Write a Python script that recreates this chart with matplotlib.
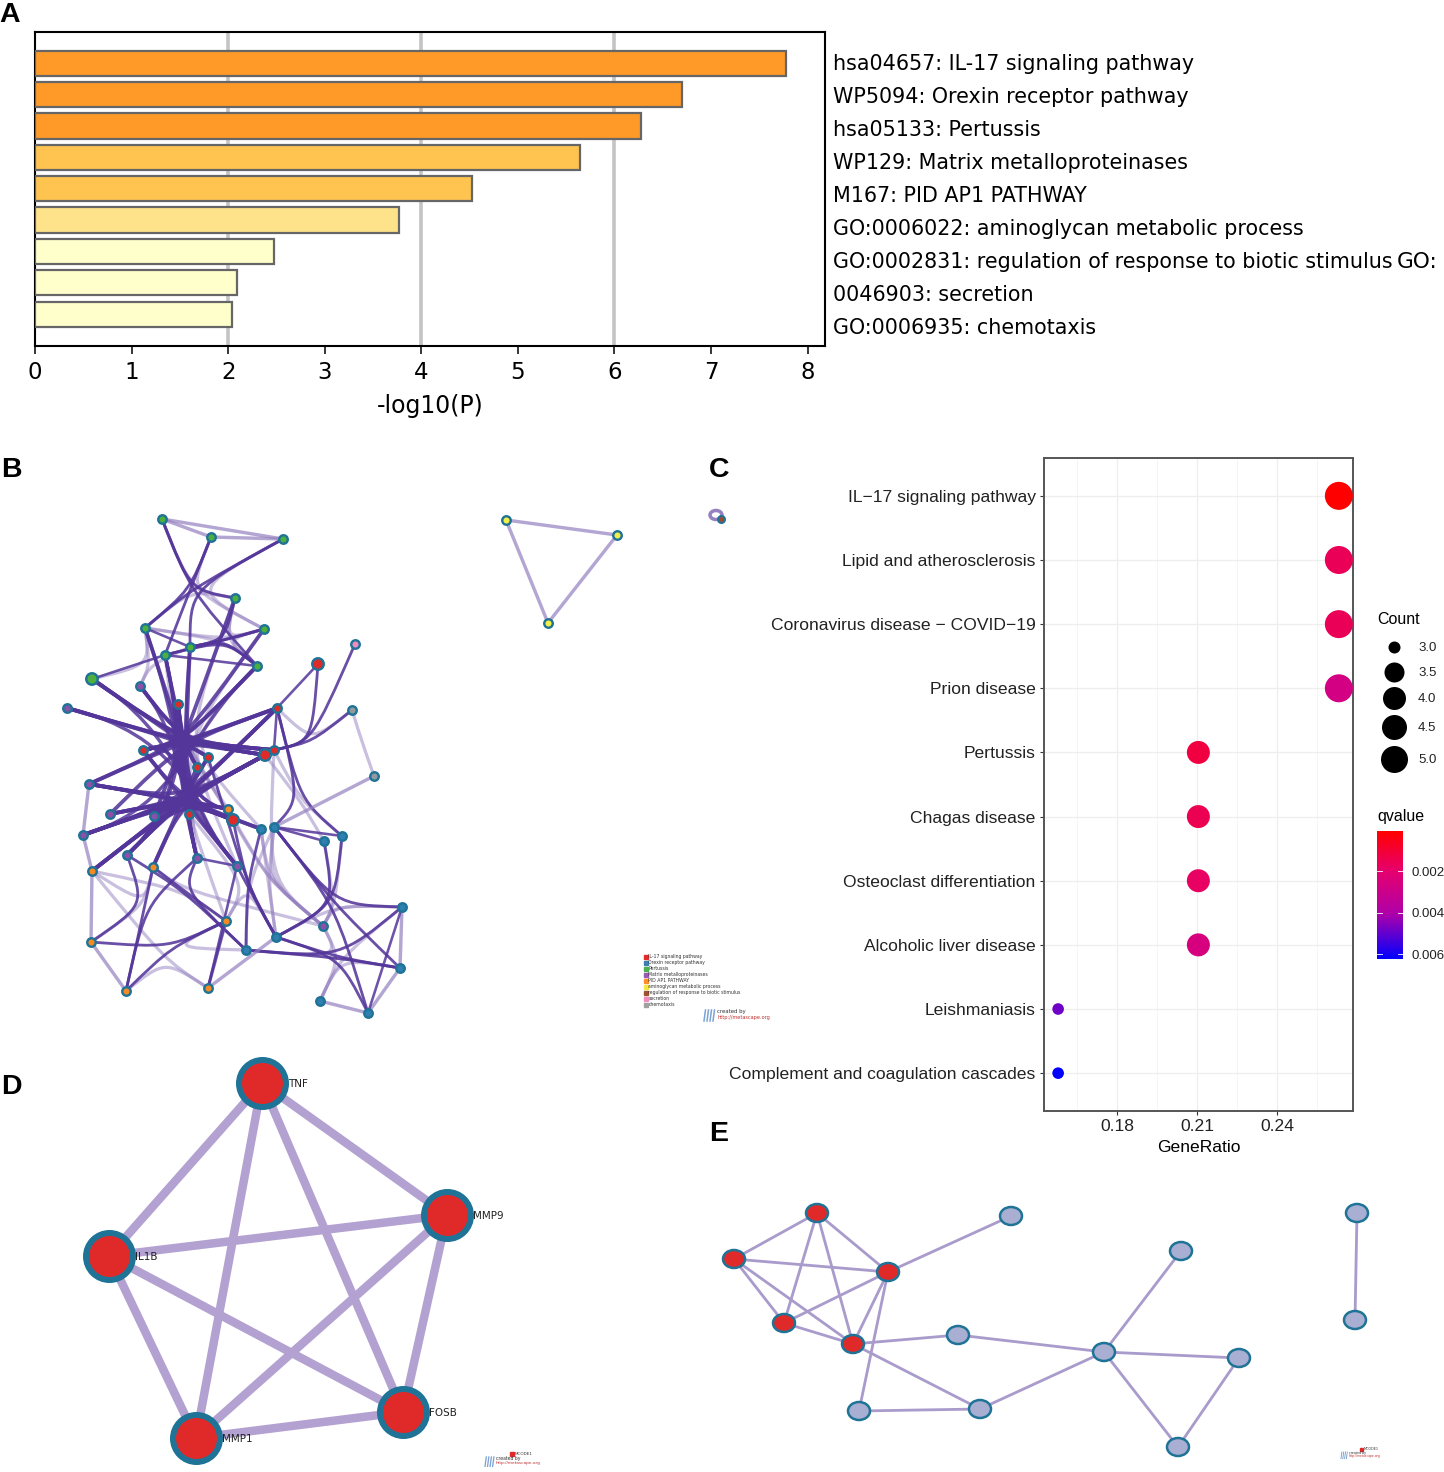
import numpy as np
import matplotlib
matplotlib.use("Agg")
import matplotlib.pyplot as plt
from matplotlib.path import Path
from matplotlib.patches import PathPatch, Ellipse, Rectangle
from matplotlib.colors import LinearSegmentedColormap, Normalize
from matplotlib.cm import ScalarMappable

W, H = 1444, 1472

# panel A
a_labels = ["hsa04657: IL-17 signaling pathway", "WP5094: Orexin receptor pathway",
            "hsa05133: Pertussis", "WP129: Matrix metalloproteinases",
            "M167: PID AP1 PATHWAY", "GO:0006022: aminoglycan metabolic process",
            "GO:0002831: regulation of response to biotic stimulus",
            "0046903: secretion", "GO:0006935: chemotaxis"]
a_values = [7.78, 6.70, 6.27, 5.64, 4.52, 3.77, 2.47, 2.09, 2.04]
a_colors = ["#ff9a28", "#ff9a28", "#ff9a28", "#fec44f", "#fec44f", "#fee38b",
            "#ffffcc", "#ffffcc", "#ffffcc"]

# panel C
c_terms = ["IL\u221217 signaling pathway", "Lipid and atherosclerosis",
           "Coronavirus disease \u2212 COVID\u221219", "Prion disease", "Pertussis",
           "Chagas disease", "Osteoclast differentiation", "Alcoholic liver disease",
           "Leishmaniasis", "Complement and coagulation cascades"]
c_ratio = [0.2632, 0.2632, 0.2632, 0.2632, 0.2105, 0.2105, 0.2105, 0.2105, 0.1579, 0.1579]
c_count = [5, 5, 5, 5, 4, 4, 4, 4, 3, 3]
c_qvalue = [0.0001, 0.0016, 0.0016, 0.0027, 0.0012, 0.0015, 0.0018, 0.0026, 0.0048, 0.0062]
c_size_levels = [3.0, 3.5, 4.0, 4.5, 5.0]

# panel B nodes, in picture pixels
b_green = {"g0": (162, 519), "g1": (211, 537), "g2": (283, 539), "g3": (235, 598), "g4": (145, 628),
           "g5": (264, 629), "g6": (190, 647), "g7": (165, 655), "g8": (257, 666), "g9": (92, 679)}
b_purple = {"p0": (140, 686), "p1": (67, 708), "p2": (89, 784), "p3": (110, 814), "p4": (154, 816),
            "p5": (83, 835), "p6": (127, 855), "p7": (197, 858), "p8": (237, 866), "p9": (323, 926)}
b_red = {"r0": (178, 704), "r1": (277, 708), "r2": (318, 664), "r3": (143, 750), "r4": (208, 757),
         "r5": (265, 755), "r6": (274, 750), "r7": (197, 767), "r8": (189, 814), "r9": (233, 820)}
b_orange = {"o0": (228, 809), "o1": (92, 871), "o2": (153, 867), "o3": (226, 921), "o4": (91, 942),
            "o5": (126, 991), "o6": (208, 988)}
b_blue = {"b0": (261, 829), "b1": (274, 827), "b2": (324, 841), "b3": (342, 836), "b4": (402, 907),
          "b5": (276, 937), "b6": (246, 950), "b7": (400, 968), "b8": (320, 1001), "b9": (368, 1013)}
b_gray = {"a0": (352, 710), "a1": (374, 776)}
b_pink = {"k0": (355, 644)}
b_yellow = {"y0": (506, 520), "y1": (617, 535), "y2": (548, 623)}

# edges that run down the central trunk, through both star points
b_trunk = ("g6-p7 g7-r8 g4-p7 r0-p7 g8-p5 p0-p7 g9-p8 p1-o0 r3-o0 r0-r8 "
           "g7-p6 r0-p8 r0-p6")

# edges grouped by the point they bundle through: (hub, strong, light)
b_edges = [
    ((183, 742), "p1-r5 p1-r6 g9-r5 g9-r6 p0-r5 p0-r6 g9-r4 p1-r4 r0-r7 g7-r7 g4-r8 g5-r3 g8-r3 g3-p4 g8-p2 "
                 "r3-r5 r3-r6 r1-r3 r1-p3 r1-p2",
     "g6-o0 g7-r9 g4-r9 g3-p8 g5-p7 g8-b0 g9-r7"),
    ((183, 800), "p2-r9 p2-o0 p3-r5 p5-r5 p5-r6 p5-r1 o1-r5 o1-r1 p3-r9 p4-r4 p4-r5 p6-r4 o2-r7 p5-r9 p7-r0 p8-r0 "
                 "r3-b0 g6-r9 p2-r6 o1-r6 p6-r5 r3-p8 p5-o0 o1-r9 p3-o0 p6-r1 o2-r5 p2-b0",
     "p2-p3 p6-r9 o2-r9 p7-r9 o3-r7 g7-p7"),
    ((190, 590), "g0-g3 g1-g7 g1-g4 g2-g4 g2-g6 g0-g8",
     "g0-g5 g3-g4 g2-g5 g1-g3"),
    ((225, 640), "g3-g6 g5-g6 g5-g7 g8-g7 g6-g8",
     "g3-g5 g5-g8 g4-g5 g4-g8 g3-g8"),
    ((150, 665), "", "g9-g4 p0-g4 p0-g6"),
    ((312, 742), "r2-r6 k0-r6 a0-r6", "r1-a0"),
    ((300, 800), "r1-b3 r1-b1", "r6-b3 r5-b2"),
    ((335, 905), "b1-b7 b1-b9 b3-b5 b2-b5 b1-b4",
     "p9-b4 b5-b4 b3-p9 b2-p9"),
    ((340, 958), "b6-b4 b6-b7 b5-b9 b5-b7", "b8-b4 b8-b7 p9-b6 b8-p9"),
    ((247, 885), "r9-b5 p8-b5 b0-b6 r4-b5", "b1-b6 o3-b5 r8-o3"),
    ((268, 880), "", "b1-p9 b0-p9 r9-p9 o0-p9 b1-b5 b0-b5 r6-p9"),
    ((183, 890), "p6-b6 p7-b6 o2-o3", "o1-o3 o2-p9"),
    ((170, 948), "o4-o3 o5-o3", "o3-b6"),
    ((145, 905), "o5-o2 o4-p6 o5-p7", "o1-o2 o4-o2"),
    ((165, 960), "", "o5-o6 o1-o6"),
    ((362, 742), "", "a0-a1"),
]
b_straight_strong = ["p7-p8", "b1-b2", "b1-b3", "b9-b4", "g4-g6", "r1-r6", "r5-r6", "r2-r1", "o6-o3", "o6-p8", "g7-g8", "g9-g7"]
b_straight_light = ["g0-g1", "g1-g2", "g0-g2", "o1-o4", "o4-o5", "b8-b9", "b7-b9", "b4-b7", "a1-b1",
                    "y0-y1", "y1-y2", "y0-y2", "p2-p5", "p5-o1", "o6-o3", "o6-b5"]

# panel D
d_nodes = {"TNF": (262, 1083), "MMP9": (447, 1215), "IL1B": (109, 1256), "FOSB": (403, 1412), "MMP1": (196, 1438)}
d_edges = [("TNF", "MMP9"), ("TNF", "IL1B"), ("TNF", "MMP1"), ("TNF", "FOSB"), ("MMP9", "IL1B"),
           ("MMP9", "FOSB"), ("MMP9", "MMP1"), ("IL1B", "MMP1"), ("IL1B", "FOSB"), ("MMP1", "FOSB")]

# panel E
e_red = [(817, 1213), (734, 1259), (888, 1272), (784, 1323), (853, 1344)]
e_rest = [(1011, 1216), (1181, 1251), (958, 1335), (1104, 1352), (1239, 1358), (859, 1411),
          (980, 1409), (1178, 1447), (1357, 1213), (1355, 1320)]
e_edges = [(0, 1), (0, 2), (0, 3), (0, 4), (1, 2), (1, 3), (1, 4), (2, 3), (2, 4), (2, 10), (2, 5), (3, 4),
           (4, 7), (4, 11), (7, 8), (11, 8), (10, 11), (8, 6), (8, 9), (8, 12), (9, 12), (13, 14)]

legend_terms = ["IL-17 signaling pathway", "Orexin receptor pathway", "Pertussis", "Matrix metalloproteinases",
                "PID AP1 PATHWAY", "aminoglycan metabolic process", "regulation of response to biotic stimulus",
                "secretion", "chemotaxis"]
legend_colors = ["#e62a2a", "#3a7fb5", "#4caf50", "#9b59b6", "#ff8c2a", "#f5e642", "#a0522d", "#f08cc0", "#a0a0a0"]

PURPLE = "#54369a"
LIGHT = "#9580c0"
RIM = "#1f7396"
RED = "#e02a2a"


def px(n):
    return n * 72 / 100


def pix_axes(fig, x0, y0, x1, y1):
    return fig.add_axes([x0 / W, 1 - y1 / H, (x1 - x0) / W, (y1 - y0) / H])


fig = plt.figure(figsize=(W / 100, H / 100), dpi=100, facecolor="white")

# ---- A
ax = pix_axes(fig, 35, 32, 825, 346)
ax.set_axisbelow(True)
ax.barh(range(9), a_values, height=0.8, color=a_colors, edgecolor="#666666", linewidth=1.6, zorder=3)
for v in [2, 4, 6]:
    ax.axvline(v, color="#c4c4c4", lw=2.6, zorder=1)
ax.set_xlim(0, 8.18)
ax.set_ylim(9.02, -1)
ax.set_yticks([])
ax.set_xticks(range(9))
ax.tick_params(axis="x", labelsize=16.5, length=6, width=1.1, pad=5)
ax.set_xlabel("-log10(P)", fontsize=17, labelpad=7)
for sp in ax.spines.values():
    sp.set_linewidth(1.5)
for i, lab in enumerate(a_labels):
    fig.text(833 / W, 1 - (64.5 + i * 32.9) / H, lab, fontsize=14.9, va="center", ha="left")
fig.text(1397 / W, 1 - (64.5 + 6 * 32.9) / H, "GO:", fontsize=15.6, va="center", ha="left")

# ---- C
ax = pix_axes(fig, 1044, 458, 1353, 1111)
ax.set_axisbelow(True)
q_cmap = LinearSegmentedColormap.from_list("q", [(0, "#ff0000"), (0.31, "#e6006e"), (0.64, "#b000a8"), (1, "#0000ff")])
q_norm = Normalize(0.00007, 0.00624)
radius = {3: 5.8, 4: 11.5, 5: 14}
sizes = [(2 * px(radius[c])) ** 2 for c in c_count]
ax.scatter(c_ratio, range(10), s=sizes, c=c_qvalue, cmap=q_cmap, norm=q_norm, linewidths=0, zorder=3, clip_on=False)
ax.set_xlim(0.1526, 0.2685)
ax.set_ylim(9.59, -0.59)
ax.set_xticks([0.18, 0.21, 0.24])
ax.set_xticks([0.165, 0.195, 0.225, 0.255], minor=True)
ax.set_xticklabels(["0.18", "0.21", "0.24"])
ax.set_yticks(range(10))
ax.set_yticklabels(c_terms)
ax.grid(True, which="major", color="#eeeeee", lw=0.9)
ax.grid(True, which="minor", axis="x", color="#f4f4f4", lw=0.6)
ax.tick_params(axis="both", which="major", length=3, width=0.8, color="#333333", labelsize=12.6, labelcolor="#222222", pad=3)
ax.tick_params(axis="x", which="minor", length=0)
for t in ax.get_xticklabels() + ax.get_yticklabels():
    t.set_family("Liberation Sans")
ax.set_xlabel("GeneRatio", fontsize=12.6, family="Liberation Sans", labelpad=4)
for sp in ax.spines.values():
    sp.set_linewidth(1.4)
    sp.set_color("#555555")

# count legend
lax = pix_axes(fig, 1370, 600, 1444, 1000)
lax.set_xlim(1370, 1444)
lax.set_ylim(1000, 600)
lax.axis("off")
size_y = [647, 672, 698, 727, 759]
size_r = [6, 10, 11.5, 12.5, 13.5]
lax.text(1377, 619, "Count", fontsize=11.5, family="Liberation Sans", va="center")
for lev, y, r in zip(c_size_levels, size_y, size_r):
    lax.scatter([1394], [y], s=(2 * px(r)) ** 2, color="black", linewidths=0)
    lax.text(1418, y + 1, f"{lev:.1f}", fontsize=9.5, family="Liberation Sans", va="center", color="#222222")
lax.text(1377, 817, "qvalue", fontsize=11.5, family="Liberation Sans", va="center")

cax = pix_axes(fig, 1377, 831, 1403, 959)
cb = fig.colorbar(ScalarMappable(norm=q_norm, cmap=q_cmap), cax=cax, ticks=[0.002, 0.004, 0.006])
cax.invert_yaxis()
cb.outline.set_visible(False)
cb.ax.set_yticklabels(["0.002", "0.004", "0.006"], family="Liberation Sans", fontsize=9.5, color="#222222")
cb.ax.tick_params(length=0, pad=6)
for v in [0.002, 0.004, 0.006]:
    cax.plot([0, 0.2], [v, v], color="white", lw=0.6, transform=cax.get_yaxis_transform())
    cax.plot([0.8, 1], [v, v], color="white", lw=0.6, transform=cax.get_yaxis_transform())

# ---- networks on a full page layer
net = fig.add_axes([0, 0, 1, 1], zorder=5)
net.set_xlim(0, W)
net.set_ylim(H, 0)
net.axis("off")
net.patch.set_alpha(0)

b_nodes = {}
for d in (b_green, b_purple, b_red, b_orange, b_blue, b_gray, b_pink, b_yellow):
    b_nodes.update(d)


def draw_curve(a, b, c1, c2, color, lw, alpha):
    path = Path([b_nodes[a], c1, c2, b_nodes[b]], [Path.MOVETO, Path.CURVE4, Path.CURVE4, Path.CURVE4])
    net.add_patch(PathPatch(path, fc="none", ec=color, lw=lw, alpha=alpha, capstyle="round", zorder=2))


for hub, strong, light in b_edges:
    for e in light.split():
        a, b = e.split("-")
        draw_curve(a, b, hub, hub, LIGHT, px(3.2), 0.5)
for e in b_trunk.split():
    a, b = e.split("-")
    draw_curve(a, b, (183, 735), (183, 805), PURPLE, px(3.4), 0.85)
for n, (hub, strong, light) in enumerate(b_edges):
    width = 3.8 if n < 2 else 2.8
    for e in strong.split():
        a, b = e.split("-")
        draw_curve(a, b, hub, hub, PURPLE, px(width), 0.88)
for e in b_straight_light:
    a, b = e.split("-")
    net.plot(*zip(b_nodes[a], b_nodes[b]), color=LIGHT, lw=px(3.4), alpha=0.7, zorder=2)
for e in b_straight_strong:
    a, b = e.split("-")
    net.plot(*zip(b_nodes[a], b_nodes[b]), color=PURPLE, lw=px(2.6), alpha=0.85, zorder=2)

for d, col in [(b_green, "#4caf3f"), (b_purple, "#8e4fa8"), (b_red, RED), (b_orange, "#f58a24"),
               (b_blue, "#2f7fb0"), (b_gray, "#909a9f"), (b_pink, "#f08cc0"), (b_yellow, "#f2ee4a")]:
    xs, ys = zip(*d.values())
    net.scatter(xs, ys, s=px(8.5) ** 2, c=col, edgecolors=RIM, linewidths=px(2.4), zorder=4)
net.scatter([92, 318, 233, 265], [679, 664, 820, 755], s=px(11.5) ** 2,
            c=["#4caf3f", RED, RED, RED], edgecolors=RIM, linewidths=px(2.4), zorder=5)

# tiny self connected node at the top of B
net.add_patch(Ellipse((716, 515), 12, 9, fc="none", ec=LIGHT, lw=px(3.5), zorder=2))
net.scatter([721], [519], s=px(7) ** 2, c="#a04a30", edgecolors=RIM, linewidths=px(2), zorder=4)

# B legend
for i, (t, col) in enumerate(zip(legend_terms, legend_colors)):
    y = 956.5 + i * 6
    net.add_patch(Rectangle((644, y - 2), 3.6, 4, color=col, zorder=3))
    net.text(648.5, y, t, fontsize=3.35, va="center", color="#333333", zorder=3)


def credit(x, y, scale):
    for dx in (0, 3, 6, 9):
        net.plot([x + dx * scale, x + (dx + 1.5) * scale], [y + 11 * scale, y], color="#5b8cc8", lw=1.1 * scale, alpha=0.8)
    net.text(x + 13 * scale, y + 1.5 * scale, "created by", fontsize=3.9 * scale, va="center", color="#333333")
    net.text(x + 13 * scale, y + 7.5 * scale, "http://metascape.org", fontsize=3.6 * scale, va="center",
             color="#c03030")


credit(704, 1010, 1)

# ---- D
for a, b in d_edges:
    net.plot(*zip(d_nodes[a], d_nodes[b]), color="#b2a1d1", lw=px(8.5), zorder=2, solid_capstyle="butt")
for name, (x, y) in d_nodes.items():
    net.scatter([x], [y], s=px(47) ** 2, c=RED, edgecolors=RIM, linewidths=px(6), zorder=4)
    net.text(x + 26, y + 1, name, fontsize=7.5, va="center", color="#222222", zorder=5)
net.add_patch(Rectangle((510, 1452), 4, 4, color="#e02a2a", zorder=3))
net.text(514.5, 1454, "MCODE1", fontsize=3, va="center", color="#333333")
credit(485, 1457, 0.85)

# ---- E
e_all = e_red + e_rest
for i, j in e_edges:
    net.plot(*zip(e_all[i], e_all[j]), color="#a99bcb", lw=px(2.8), zorder=2)
for k, (x, y) in enumerate(e_all):
    col = RED if k < len(e_red) else "#a9afd2"
    net.add_patch(Ellipse((x, y), 22, 18, fc=col, ec=RIM, lw=px(2.5), zorder=4))
net.add_patch(Rectangle((1360, 1448), 3, 3, color="#e02a2a", zorder=3))
net.text(1363.5, 1449.5, "MCODE1", fontsize=2.4, va="center", color="#333333")
credit(1341, 1452, 0.6)

# panel letters
for lab, x, y in [("A", 10, 15), ("B", 11, 470), ("C", 719, 470), ("D", 11, 1087), ("E", 719, 1134)]:
    net.text(x, y, lab, fontsize=20.5, fontweight="bold", family="Liberation Sans", ha="center", va="center", zorder=6)

fig.savefig("out.png", dpi=100)
